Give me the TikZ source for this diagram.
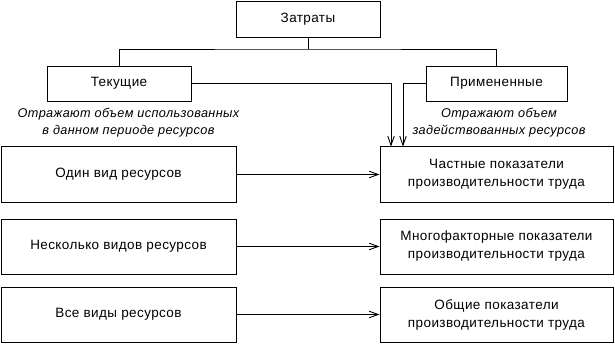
\documentclass[tikz,border=0pt]{standalone}
\usepackage{fontspec}
\setmainfont{Liberation Sans}[LetterSpace=3]
\usetikzlibrary{arrows.meta}
\tikzset{
  box/.style={draw, line width=0.9pt, rectangle, inner sep=0pt, align=center,
    font=\fontsize{13.5}{18}\selectfont},
  note/.style={align=center, inner sep=0pt, font=\fontsize{12.7}{17}\selectfont\itshape},
  link/.style={line width=0.9pt},
  arr/.style={line width=0.9pt, -{Straight Barb[length=9pt,width=6.5pt]}}
}
\begin{document}
\begin{tikzpicture}[x=1pt,y=-1pt]
\useasboundingbox (0,0) rectangle (615,344);
\node[box, minimum width=144pt, minimum height=36pt] (zat) at (308,19) {Затраты};
\node[box, minimum width=144pt, minimum height=35pt] (tek) at (119,83.5) {Текущие};
\node[box, minimum width=141pt, minimum height=35pt] (prim) at (496.5,83.5) {Примененные};
\node[note] (ntek) at (128.5,123) {Отражают объем использованных\\в данном периоде ресурсов};
\node[note] (nprim) at (499,123) {Отражают объем\\задействованных ресурсов};
\node[box, minimum width=235pt, minimum height=56pt] (l1) at (118.5,174.5) {Один вид ресурсов};
\node[box, minimum width=235pt, minimum height=55pt] (l2) at (118.5,246.5) {Несколько видов ресурсов};
\node[box, minimum width=235pt, minimum height=55pt] (l3) at (118.5,314.5) {Все виды ресурсов};
\node[box, minimum width=233pt, minimum height=56pt] (r1) at (496.5,174.5) {Частные показатели\\производительности труда};
\node[box, minimum width=233pt, minimum height=55pt] (r2) at (496.5,246.5) {Многофакторные показатели\\производительности труда};
\node[box, minimum width=233pt, minimum height=55pt] (r3) at (496.5,314.5) {Общие показатели\\производительности труда};
\coordinate (bar) at (308,49);
\coordinate (dt) at (391,146.5);
\coordinate (dp) at (403,146.5);
\draw[link] (zat.south) -- (bar);
\draw[link] (tek.north) |- (bar) -| (prim.north);
\draw[arr] (tek.east) -| (dt);
\draw[arr] (prim.west) -| (dp);
\draw[arr] (l1.east) -- (r1.west);
\draw[arr] (l2.east) -- (r2.west);
\draw[arr] (l3.east) -- (r3.west);
\end{tikzpicture}
\end{document}
